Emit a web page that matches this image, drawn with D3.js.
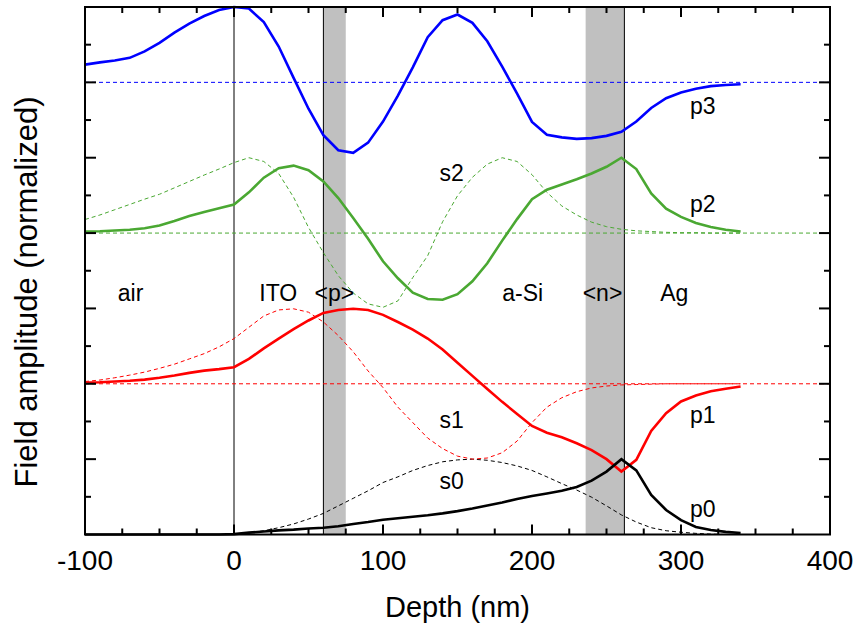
<!DOCTYPE html>
<html>
<head>
<meta charset="utf-8">
<script src="https://cdn.jsdelivr.net/npm/d3@7"></script>
<style>
  html, body { margin: 0; padding: 0; background: #fff; }
  svg { display: block; font-family: "Liberation Sans", Arial, Helvetica, sans-serif; }
</style>
</head>
<body>
<svg id="chart" width="857" height="626"></svg>
<script>
// ---- data ----
const depth = [-100,-90,-80,-70,-60,-50,-40,-30,-20,-10,0,10,20,30,40,50,60,70,80,90,100,110,120,130,140,150,160,170,180,190,200,210,220,230,240,250,260,270,280,290,300,310,320,330,340];

const p0 = [0,0,0,0,0,0,0,0,0,0,0.01,0.05,0.08,0.11,0.13,0.16,0.18,0.22,0.28,0.33,0.39,0.43,0.47,0.51,0.56,0.62,0.69,0.77,0.85,0.94,1.02,1.09,1.16,1.26,1.43,1.67,2.0,1.7,1.05,0.65,0.38,0.2,0.12,0.07,0.04];
const s0 = [0,0,0,0,0,0,0,0,0,0,0,0.04,0.1,0.18,0.28,0.41,0.56,0.76,0.96,1.16,1.38,1.53,1.7,1.83,1.93,1.98,2.0,1.97,1.91,1.82,1.7,1.53,1.35,1.18,0.99,0.76,0.52,0.33,0.18,0.1,0.06,0.03,0.01,0,0];

const p1 = [4.03,4.04,4.06,4.08,4.11,4.16,4.22,4.29,4.35,4.39,4.44,4.66,4.94,5.2,5.45,5.68,5.88,5.96,5.99,5.96,5.83,5.64,5.44,5.2,4.91,4.56,4.21,3.86,3.52,3.2,2.88,2.7,2.58,2.42,2.24,2.0,1.67,1.98,2.75,3.22,3.53,3.69,3.8,3.87,3.93];
const s1 = [4.06,4.1,4.16,4.23,4.31,4.41,4.52,4.66,4.8,4.98,5.2,5.5,5.8,5.96,5.99,5.9,5.64,5.28,4.85,4.34,3.9,3.38,2.97,2.56,2.28,2.08,2.0,2.03,2.17,2.48,2.97,3.38,3.63,3.79,3.89,3.94,3.97,3.98,3.99,4.0,4.0,4.0,4.0,4.0,4.0];

const p2 = [8.04,8.05,8.07,8.09,8.13,8.2,8.32,8.45,8.56,8.66,8.76,9.08,9.47,9.72,9.79,9.67,9.37,8.93,8.4,7.85,7.25,6.8,6.42,6.25,6.23,6.38,6.72,7.2,7.8,8.37,8.9,9.15,9.29,9.43,9.58,9.76,10.0,9.7,9.05,8.65,8.43,8.27,8.16,8.09,8.04];
const s2 = [8.36,8.48,8.62,8.76,8.9,9.03,9.2,9.37,9.54,9.7,9.87,10.0,9.9,9.58,8.95,8.15,7.48,6.87,6.41,6.12,6.03,6.2,6.82,7.4,8.3,8.99,9.48,9.83,10.0,9.9,9.55,9.08,8.72,8.48,8.29,8.17,8.1,8.06,8.04,8.02,8.01,8.01,8.0,8.0,8.0];

const p3 = [12.47,12.53,12.58,12.65,12.82,13.05,13.32,13.56,13.76,13.92,14.0,13.96,13.6,12.95,12.12,11.3,10.6,10.2,10.13,10.4,10.96,11.65,12.4,13.2,13.65,13.8,13.58,13.09,12.42,11.7,10.95,10.61,10.54,10.5,10.52,10.58,10.69,10.96,11.32,11.58,11.73,11.83,11.9,11.93,11.95];

const baselines = [4, 8, 12];
const baselineColors = ["#ff0000", "#4aa832", "#0000ff"];

const bands = [[60, 75], [236, 262]];
const interfaces = [0, 60, 262];

const xTickValues = [-100, 0, 100, 200, 300, 400];
const xMinorTicks = [-75,-50,-25,25,50,75,125,150,175,225,250,275,325,350,375];
const yMajorTicks = [2, 4, 6, 8, 10, 12];
const yMinorTicks = [1, 3, 5, 7, 9, 11, 13];

const layerLabels = [
  {text: "air", x: -78, y: 6.2},
  {text: "ITO", x: 17, y: 6.2},
  {text: "<p>", x: 54, y: 6.2},
  {text: "a-Si", x: 180, y: 6.2},
  {text: "<n>", x: 234, y: 6.2},
  {text: "Ag", x: 286, y: 6.2}
];
const curveLabels = [
  {text: "p3", x: 306, y: 11.17},
  {text: "p2", x: 306, y: 8.55},
  {text: "s2", x: 138, y: 9.39},
  {text: "s1", x: 138, y: 2.82},
  {text: "p1", x: 306, y: 2.95},
  {text: "s0", x: 138, y: 1.22},
  {text: "p0", x: 306, y: 0.47}
];

// ---- layout ----
const svg = d3.select("#chart");
const x = d3.scaleLinear().domain([-100, 400]).range([85, 830]);
const y = d3.scaleLinear().domain([0, 14]).range([534.5, 7]);
const x0 = x.range()[0], x1 = x.range()[1];
const yB = y.range()[0], yT = y.range()[1];

// bands
svg.append("g").selectAll("rect").data(bands).join("rect")
  .attr("x", d => x(d[0])).attr("width", d => x(d[1]) - x(d[0]))
  .attr("y", yT).attr("height", yB - yT)
  .attr("fill", "#c0c0c0");

// interface lines
svg.append("g").selectAll("line").data(interfaces).join("line")
  .attr("x1", d => x(d)).attr("x2", d => x(d))
  .attr("y1", yT).attr("y2", yB)
  .attr("stroke", "#000").attr("stroke-width", 1);

// dashed baselines
svg.append("g").selectAll("line").data(baselines).join("line")
  .attr("x1", x0).attr("x2", x1)
  .attr("y1", d => y(d)).attr("y2", d => y(d))
  .attr("stroke", (d, i) => baselineColors[i])
  .attr("stroke-width", 1).attr("stroke-dasharray", "4,3");

const line = d3.line().x(d => x(d[0])).y(d => y(d[1]));
const zipped = arr => depth.map((d, i) => [d, arr[i]]);

const dashed = [
  {vals: s0, color: "#000000"},
  {vals: s1, color: "#ff0000"},
  {vals: s2, color: "#4aa832"}
];
const solid = [
  {vals: p3, color: "#0000ff"},
  {vals: p2, color: "#4aa832"},
  {vals: p1, color: "#ff0000"},
  {vals: p0, color: "#000000"}
];

svg.append("g").selectAll("path").data(dashed).join("path")
  .attr("d", d => line(zipped(d.vals)))
  .attr("fill", "none").attr("stroke", d => d.color)
  .attr("stroke-width", 1).attr("stroke-dasharray", "4,3");

svg.append("g").selectAll("path").data(solid).join("path")
  .attr("d", d => line(zipped(d.vals)))
  .attr("fill", "none").attr("stroke", d => d.color)
  .attr("stroke-width", 2.6).attr("stroke-linejoin", "miter");

// frame
svg.append("rect").attr("x", x0).attr("y", yT)
  .attr("width", x1 - x0).attr("height", yB - yT)
  .attr("fill", "none").attr("stroke", "#000").attr("stroke-width", 2);

// ticks (inward, all four sides)
const tg = svg.append("g").attr("stroke", "#000").attr("stroke-width", 2);
function xt(vals, len) {
  vals.forEach(v => {
    tg.append("line").attr("x1", x(v)).attr("x2", x(v)).attr("y1", yB).attr("y2", yB - len);
    tg.append("line").attr("x1", x(v)).attr("x2", x(v)).attr("y1", yT).attr("y2", yT + len);
  });
}
function yt(vals, len) {
  vals.forEach(v => {
    tg.append("line").attr("y1", y(v)).attr("y2", y(v)).attr("x1", x0).attr("x2", x0 + len);
    tg.append("line").attr("y1", y(v)).attr("y2", y(v)).attr("x1", x1).attr("x2", x1 - len);
  });
}
xt(xTickValues.slice(1, -1), 10);
xt(xMinorTicks, 6);
yt(yMajorTicks, 11);
yt(yMinorTicks, 6);

// tick labels
svg.append("g").selectAll("text").data(xTickValues).join("text")
  .attr("x", d => x(d)).attr("y", 570)
  .attr("text-anchor", "middle").attr("font-size", 28).attr("fill", "#000")
  .text(d => d);

// axis titles
svg.append("text").attr("x", (x0 + x1) / 2).attr("y", 617)
  .attr("text-anchor", "middle").attr("font-size", 29).attr("fill", "#000")
  .text("Depth (nm)");
svg.append("text").attr("transform", "translate(37,292) rotate(-90)")
  .attr("text-anchor", "middle").attr("font-size", 31).attr("fill", "#000")
  .text("Field amplitude (normalized)");

// in-plot labels
svg.append("g").selectAll("text").data(layerLabels.concat(curveLabels)).join("text")
  .attr("x", d => x(d.x)).attr("y", d => y(d.y))
  .attr("font-size", 23).attr("fill", "#000")
  .text(d => d.text);
</script>
</body>
</html>
